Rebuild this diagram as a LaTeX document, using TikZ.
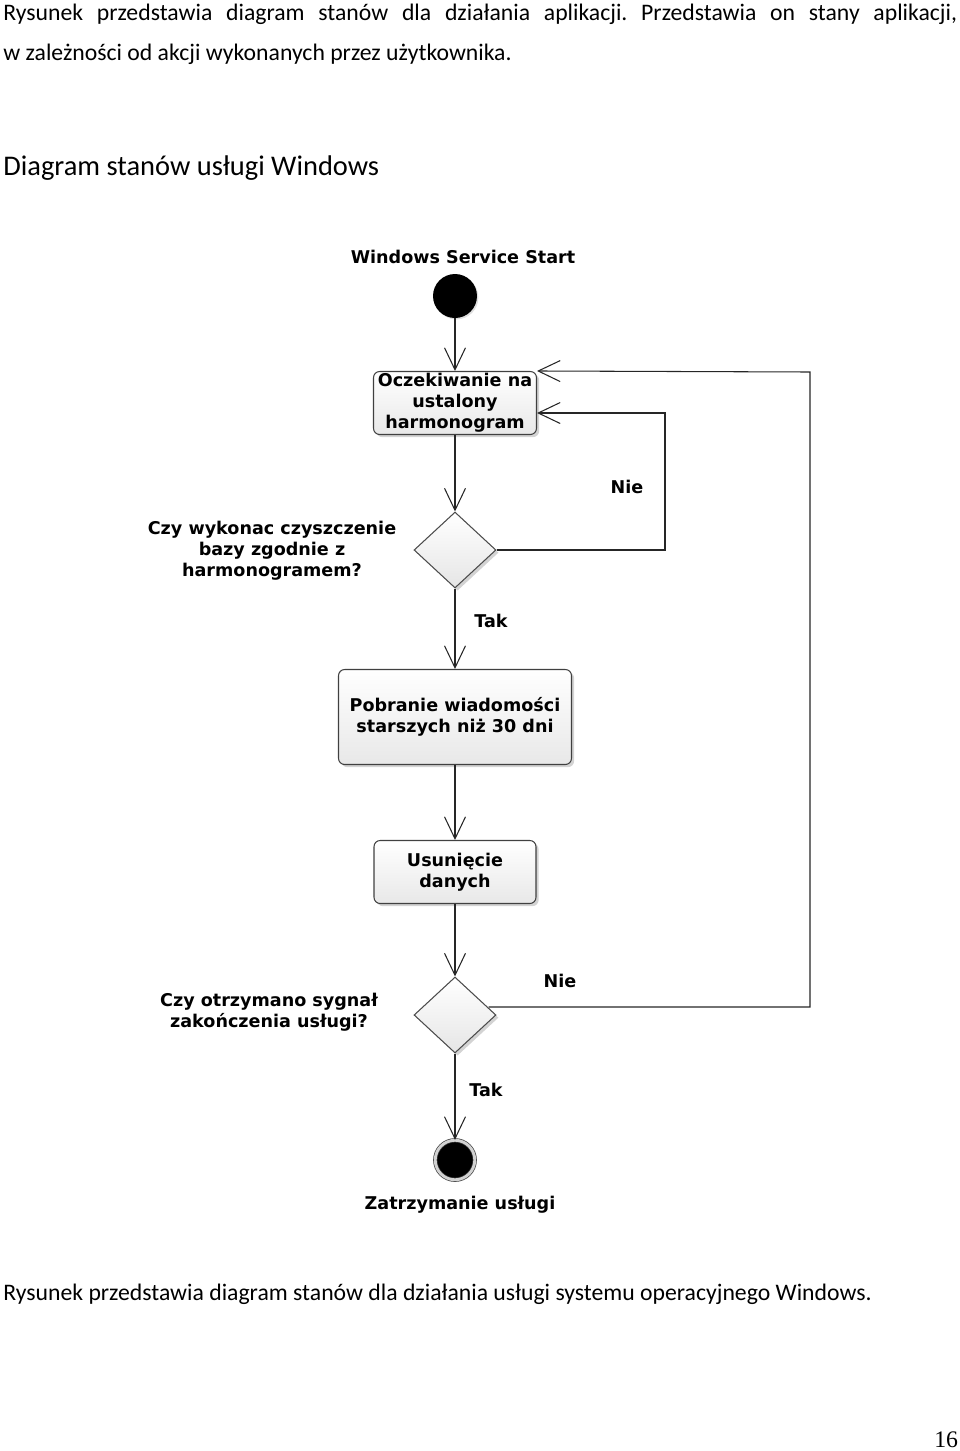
\documentclass[tikz,border=0pt]{standalone}
\usepackage{fontspec}
\setmainfont{Carlito}
\newfontfamily\diagfont{DejaVu Sans}
\newfontfamily\szeryf{Liberation Serif}
\usetikzlibrary{arrows.meta,shapes.geometric,shadows}
\frenchspacing

\begin{document}
\begin{tikzpicture}[
        x=0.02cm, y=-0.02cm,
        tekst/.style={anchor=base west, inner sep=0pt, font=\fontsize{13.5}{16}\selectfont},
        etykieta/.style={font=\diagfont\bfseries\fontsize{10}{12}\selectfont, align=center, inner sep=1pt},
        stan/.style={etykieta, draw=black!75, line width=0.6pt, rounded corners=3.5pt,
            top color=white, bottom color=gray!18,
            drop shadow={shadow xshift=1.5pt, shadow yshift=-1.5pt, opacity=0.35}},
        decyzja/.style={diamond, draw=black!70, line width=0.6pt, inner sep=0pt,
            minimum width=1.64cm, minimum height=1.52cm, top color=white, bottom color=gray!20,
            drop shadow={shadow xshift=1.5pt, shadow yshift=-1.5pt, opacity=0.35}},
        poczatek/.style={circle, fill=black, minimum size=0.88cm, inner sep=0pt,
            drop shadow={shadow xshift=0.8pt, shadow yshift=-0.8pt, opacity=0.25}},
        koniec/.style={circle, fill=black, draw=black!75, double=gray!35, double distance=1.6pt,
            minimum size=0.79cm, inner sep=0pt},
        strzalka/.style={-{Straight Barb[length=4.4mm, width=4.2mm]}, line width=0.6pt, black!85}
    ]
        \useasboundingbox (0,0) rectangle (960,1451);

        % Tekst strony
        \node[tekst] (akapit1) at (3,20) {\makebox[19.08cm][s]{Rysunek przedstawia diagram stanów dla działania aplikacji. Przedstawia on stany aplikacji,}};
        \node[tekst] (akapit2) at (3,60) {w zależności od akcji wykonanych przez użytkownika.};
        \node[tekst, font=\fontsize{16.2}{19}\selectfont] (naglowek) at (3,175) {Diagram stanów usługi Windows};

        % Stany
        \node[etykieta] (tytul) at (463,257) {Windows Service Start};
        \node[poczatek] (start) at (455,296) {};
        \node[stan, minimum width=3.26cm, minimum height=1.26cm] (oczek) at (455,403) {Oczekiwanie na\\ustalony\\harmonogram};
        \node[decyzja] (dec1) at (455,550) {};
        \node[etykieta] (pyt1) at (272,551) {Czy wykonac czyszczenie\\bazy zgodnie z\\harmonogramem?};
        \node[stan, minimum width=4.66cm, minimum height=1.9cm] (pobr) at (455,717) {Pobranie wiadomości\\starszych niż 30 dni};
        \node[stan, minimum width=3.24cm, minimum height=1.26cm] (usun) at (455,872) {Usunięcie\\danych};
        \node[decyzja] (dec2) at (455,1015) {};
        \node[etykieta] (pyt2) at (269,1012) {Czy otrzymano sygnał\\zakończenia usługi?};
        \node[koniec] (stop) at (455,1160) {};
        \node[etykieta] (stoptxt) at (460,1205) {Zatrzymanie usługi};

        % Etykiety przejsc
        \node[etykieta] (nie1) at (627,487) {Nie};
        \node[etykieta] (tak1) at (491,621) {Tak};
        \node[etykieta] (nie2) at (560,981) {Nie};
        \node[etykieta] (tak2) at (486,1090) {Tak};

        % Przejscia
        \draw[strzalka] (start) -- (oczek);
        \draw[strzalka] (oczek) -- (dec1);
        \draw[strzalka] (dec1) -- (pobr);
        \draw[strzalka] (pobr) -- (usun);
        \draw[strzalka] (usun) -- (dec2);
        \draw[strzalka] (dec2) -- (stop);

        % Petle powrotne
        \coordinate (zakret1) at (665,413);
        \draw[strzalka] (dec1.east) -| (zakret1) -- (oczek.east |- zakret1);
        \coordinate (zakret2) at (810,372);
        \draw[strzalka] (dec2.east) ++(-8,-8) -| (zakret2) -- (oczek.north east);

        % Podpis
        \node[tekst] (podpis) at (3,1300) {Rysunek przedstawia diagram stanów dla działania usługi systemu operacyjnego Windows.};
        \node[tekst, font=\szeryf\fontsize{13.5}{16}\selectfont] (strona) at (934,1447) {16};

    \end{tikzpicture}
\end{document}
